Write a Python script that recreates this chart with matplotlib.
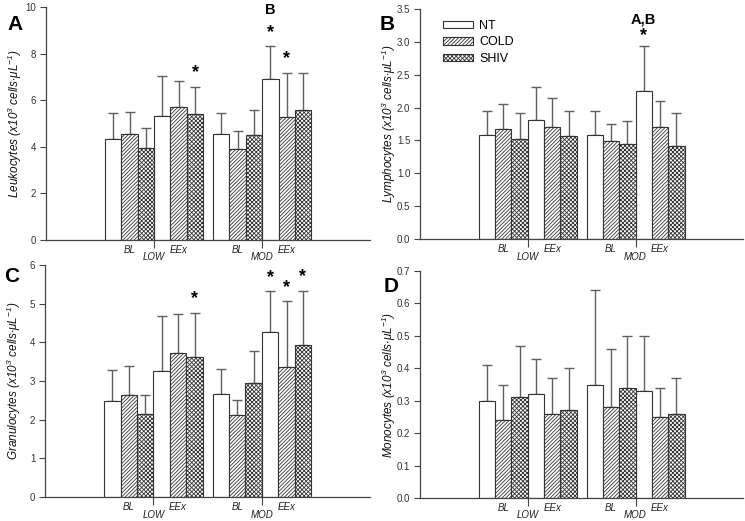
import numpy as np
import matplotlib
matplotlib.use("Agg")
import matplotlib.pyplot as plt
from matplotlib.patches import Patch
from matplotlib.ticker import FormatStrFormatter

plt.rcParams['font.family'] = ['Liberation Sans', 'DejaVu Sans']
plt.rcParams['mathtext.default'] = 'regular'
plt.rcParams['hatch.linewidth'] = 0.6

# groups: LOW-BL, LOW-EEx, MOD-BL, MOD-EEx
series = ['NT', 'COLD', 'SHIV']
phase_labels = ['BL', 'EEx', 'BL', 'EEx']
condition_labels = ['LOW', 'MOD']

leuk_mean = {'NT': [4.33, 5.34, 4.57, 6.93],
             'COLD': [4.57, 5.69, 3.91, 5.30],
             'SHIV': [3.96, 5.40, 4.49, 5.60]}
leuk_sd = {'NT': [1.13, 1.69, 0.86, 1.38],
           'COLD': [0.94, 1.14, 0.75, 1.87],
           'SHIV': [0.85, 1.17, 1.11, 1.57]}

lymph_mean = {'NT': [1.58, 1.81, 1.58, 2.25],
              'COLD': [1.68, 1.70, 1.49, 1.70],
              'SHIV': [1.52, 1.56, 1.44, 1.41]}
lymph_sd = {'NT': [0.37, 0.50, 0.37, 0.68],
            'COLD': [0.37, 0.44, 0.26, 0.40],
            'SHIV': [0.40, 0.39, 0.36, 0.50]}

gran_mean = {'NT': [2.47, 3.25, 2.66, 4.27],
             'COLD': [2.63, 3.72, 2.12, 3.35],
             'SHIV': [2.14, 3.61, 2.96, 3.92]}
gran_sd = {'NT': [0.81, 1.42, 0.64, 1.05],
           'COLD': [0.75, 1.00, 0.40, 1.71],
           'SHIV': [0.49, 1.15, 0.82, 1.42]}

mono_mean = {'NT': [0.30, 0.32, 0.35, 0.33],
             'COLD': [0.24, 0.26, 0.28, 0.25],
             'SHIV': [0.31, 0.27, 0.34, 0.26]}
mono_sd = {'NT': [0.11, 0.11, 0.29, 0.17],
           'COLD': [0.11, 0.11, 0.18, 0.09],
           'SHIV': [0.16, 0.13, 0.16, 0.11]}

# (group, series) pairs marked with *
leuk_stars = [(1, 'SHIV'), (3, 'NT'), (3, 'COLD')]
lymph_stars = [(3, 'NT')]
gran_stars = [(1, 'SHIV'), (3, 'NT'), (3, 'COLD'), (3, 'SHIV')]
mono_stars = []

styles = {'NT': dict(facecolor='white', hatch=None),
          'COLD': dict(facecolor='white', hatch='/////////'),
          'SHIV': dict(facecolor='white', hatch='xxxxxxxx')}

group_starts = [0.0, 3.0, 6.6, 9.6]
W, H = 745, 521


def panel(rect, mean, sd, stars, ylim, step, fmt, ylabel, letter, letter_xy,
          extra=None, star_off=4):
    ax = fig.add_axes([rect[0] / W, 1 - rect[1] / H, rect[2] / W, rect[3] / H])
    for i, s in enumerate(series):
        x = np.array(group_starts) + i + 0.5
        ax.bar(x, mean[s], width=1.0, edgecolor='#333333', linewidth=0.8,
               zorder=2, **styles[s])
        ax.errorbar(x, mean[s], yerr=[np.zeros(4), sd[s]], fmt='none',
                    ecolor='#606060', elinewidth=1.0, capsize=3.5, capthick=1.0, zorder=1)
    for g, s in stars:
        i = series.index(s)
        x = group_starts[g] + i + 0.5
        top = mean[s][g] + sd[s][g]
        ax.annotate('*', (x, top), xytext=(0, star_off), textcoords='offset points',
                    ha='center', va='bottom', fontsize=13, fontweight='bold')
    if extra:
        g, s, txt, yval = extra
        i = series.index(s)
        x = group_starts[g] + i + 0.5
        ax.text(x, yval, txt, ha='center', va='center', fontsize=10.5, fontweight='bold')
    ax.set_xlim(-3.6, 16.18)
    ax.set_ylim(*ylim)
    ax.set_yticks(np.arange(0, ylim[1] + step / 2, step))
    ax.yaxis.set_major_formatter(FormatStrFormatter(fmt))
    for sp in ['top', 'right']:
        ax.spines[sp].set_visible(False)
    for sp in ['left', 'bottom']:
        ax.spines[sp].set_color('#444444')
        ax.spines[sp].set_linewidth(0.9)
    ax.tick_params(axis='y', direction='out', length=4, width=0.8, color='#444444',
                   labelsize=7, labelcolor='#333333', pad=3)
    ax.set_xticks([3.0, 12.6 - 3.0])
    ax.set_xticklabels(condition_labels, fontsize=7, fontstyle='italic', color='#222222')
    ax.tick_params(axis='x', which='major', direction='out', length=6, width=0.8,
                   color='#444444', pad=3)
    ax.set_xticks([g + 1.5 for g in group_starts], minor=True)
    ax.set_xticklabels(phase_labels, minor=True, fontsize=7, fontstyle='italic', color='#222222')
    ax.tick_params(axis='x', which='minor', length=0, pad=3.5)
    ax.set_ylabel(ylabel, fontsize=8.5, fontstyle='italic', color='#111111', va='center')
    ax.yaxis.set_label_coords(-31 / rect[2], 0.5)
    fig.text(letter_xy[0] / W, 1 - letter_xy[1] / H, letter, fontsize=15,
             fontweight='bold', ha='left', va='center')
    return ax


fig = plt.figure(figsize=(7.45, 5.21), dpi=100)

panel((46, 240, 324, 233), leuk_mean, leuk_sd, leuk_stars, (0, 10), 2, '%d',
      r'Leukocytes (x10$^3$ cells$\cdot$$\mu$L$^{-1}$)', 'A', (7, 25),
      extra=(3, 'NT', 'B', 9.87))
panel((420, 239, 323, 230), lymph_mean, lymph_sd, lymph_stars, (0, 3.5), 0.5, '%.1f',
      r'Lymphocytes (x10$^3$ cells$\cdot$$\mu$L$^{-1}$)', 'B', (380, 24),
      extra=(3, 'NT', 'A,B', 3.34), star_off=1.5)
panel((45, 497, 325, 232), gran_mean, gran_sd, gran_stars, (0, 6), 1, '%d',
      r'Granulocytes (x10$^3$ cells$\cdot$$\mu$L$^{-1}$)', 'C', (4, 276))
panel((420, 498, 323, 227), mono_mean, mono_sd, mono_stars, (0, 0.7), 0.1, '%.1f',
      r'Monocytes (x10$^3$ cells$\cdot$$\mu$L$^{-1}$)', 'D', (384, 286))

handles = [Patch(facecolor='white', edgecolor='#333333', linewidth=0.8, hatch=styles[s]['hatch'],
                 label=s) for s in series]
fig.legend(handles=handles, loc='upper left', bbox_to_anchor=(438 / W, 1 - 15 / H),
           frameon=False, fontsize=9, handlelength=2.4, handleheight=0.55,
           handletextpad=0.5, labelspacing=0.35, borderaxespad=0)

fig.savefig('out.png', dpi=100)
